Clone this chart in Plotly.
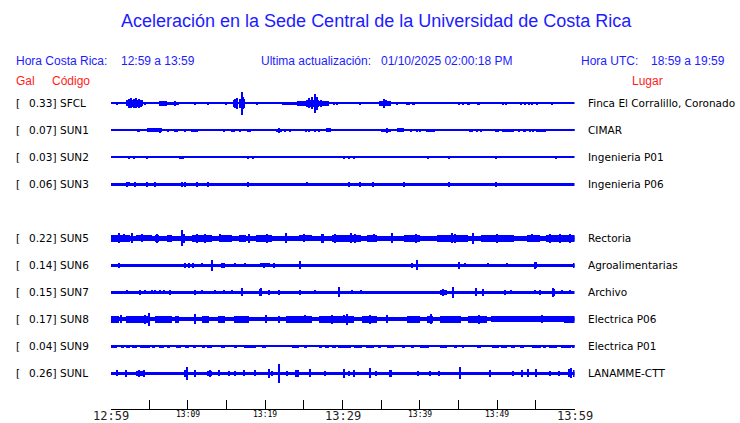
import plotly.graph_objects as go

W, H = 740, 423

# ---------------- data ----------------
STATIONS = ["SFCL", "SUN1", "SUN2", "SUN3", "SUN4", "SUN5", "SUN6", "SUN7", "SUN8", "SUN9", "SUNL"]
GAL = ["0.33", "0.07", "0.03", "0.06", None, "0.22", "0.14", "0.15", "0.17", "0.04", "0.26"]
LUGAR = ["Finca El Corralillo, Coronado", "CIMAR", "Ingenieria P01", "Ingenieria P06", None,
         "Rectoria", "Agroalimentarias", "Archivo", "Electrica P06", "Electrica P01", "LANAMME-CTT"]
# background noise half-amplitude of each trace (minutes 0..60 after 12:59)
BASE = [0.7, 0.7, 0.6, 1.6, None, 2.4, 1.5, 1.5, 2.1, 0.6, 1.6]

TICK_MIN = [0, 5, 10, 15, 20, 25, 30, 35, 40, 45, 50, 55, 60]
TICK_LABELS = ["12:59", "", "13:09", "", "13:19", "", "13:29", "", "13:39", "", "13:49", "", "13:59"]
TICK_MAJOR = [True, False, False, False, False, False, True, False, False, False, False, False, True]

# bursts: (start minute, end minute, half amplitude); spikes: (minute, half amplitude)
SFCL_BLOCKS = [(0.6, 0.95, 1.5), (2.0, 4.1, 3.0), (2.5, 3.9, 3.8), (6.2, 7.3, 2.7), (7.3, 8.8, 1.7),
               (15.8, 16.45, 3.5), (16.6, 17.3, 4.5), (22.1, 24.1, 1.8), (24.1, 25.2, 2.3),
               (25.2, 26.9, 3.5), (26.9, 28.2, 2.2), (32.05, 32.35, 1.3), (34.6, 36.2, 2.3),
               (36.8, 37.1, 1.5), (39.05, 39.3, 1.5), (46.05, 46.4, 1.5), (47.35, 47.7, 1.5),
               (50.5, 50.8, 1.5), (51.0, 51.25, 1.5), (52.85, 53.15, 1.5), (53.4, 53.7, 1.5)]
SFCL_SPIKES = [(2.3, 4.5), (2.6, 5.0), (2.95, 4.2), (3.25, 5.0), (3.6, 4.3), (3.9, 3.5), (4.46, 1.5),
               (8.3, 2.5), (10.93, 1.3), (11.66, 1.0), (12.56, 1.3), (13.77, 1.0), (14.89, 1.3),
               (16.0, 4.5), (16.3, 5.5), (16.92, 11.3), (17.1, 6.0), (17.9, 1.0), (18.9, 1.3), (19.1, 1.0),
               (21.27, 1.0), (25.6, 5.0), (26.0, 6.0), (26.44, 9.2), (26.7, 6.5), (27.2, 3.5),
               (28.81, 1.3), (29.24, 1.3), (30.15, 1.0), (30.54, 1.0), (33.77, 1.0), (35.28, 4.5),
               (35.6, 3.0), (38.3, 1.3), (38.5, 1.3), (40.97, 1.0), (43.04, 1.0), (44.2, 1.0),
               (44.98, 1.3), (45.5, 1.3), (48.64, 1.0), (54.1, 1.3), (54.5, 1.3), (55.1, 1.3), (57.1, 1.3)]

SUN1_BLOCKS = [(3.4, 3.8, 1.3), (4.7, 6.6, 2.0), (10.4, 11.2, 1.7), (17.6, 18.05, 1.3), (21.3, 22.1, 1.7),
               (27.85, 28.4, 2.0), (34.85, 36.15, 1.7), (37.0, 37.9, 2.0), (38.65, 38.95, 1.5),
               (40.7, 41.95, 1.7), (46.3, 46.85, 1.5), (47.15, 47.45, 1.5), (47.7, 48.0, 1.5),
               (49.6, 50.2, 1.5), (50.6, 52.1, 1.5), (52.6, 52.95, 1.5), (53.3, 53.7, 1.5), (55.0, 56.3, 1.5)]
SUN1_SPIKES = [(0.58, 1.0), (0.88, 1.0), (1.36, 1.0), (1.7, 1.0), (2.0, 1.0), (6.4, 2.5), (7.39, 1.3),
               (8.25, 1.3), (8.6, 1.3), (9.63, 1.3), (14.59, 1.5), (15.67, 1.3), (15.88, 1.3), (16.75, 1.3),
               (21.7, 2.3), (22.56, 1.3), (23.2, 1.3), (25.28, 1.3), (25.67, 1.3), (26.44, 1.3), (26.87, 1.3),
               (29.03, 1.0), (29.68, 1.0), (30.03, 1.0), (30.89, 1.0), (31.4, 1.0), (32.05, 1.0), (32.7, 1.0),
               (33.77, 1.0), (34.2, 1.0), (35.7, 2.3), (39.6, 1.3), (40.0, 1.3), (54.16, 1.3), (54.6, 1.3),
               (57.9, 1.0), (59.85, 1.0)]

SUN2_BLOCKS = [(8.77, 9.42, 1.5), (17.6, 17.8, 1.5), (30.0, 30.3, 1.5), (30.6, 30.9, 1.5),
               (43.7, 43.9, 1.5), (57.45, 57.7, 1.5)]
SUN2_SPIKES = [(2.3, 1.3), (2.95, 1.3), (4.68, 1.3), (4.9, 1.0), (5.54, 1.0), (6.19, 1.0), (18.34, 1.3),
               (25.06, 1.0), (31.4, 1.3), (32.35, 1.0), (40.97, 1.3), (44.34, 1.0), (49.85, 1.3), (50.58, 1.0)]

SUN3_BLOCKS = [(8.99, 9.3, 2.5), (12.43, 12.65, 2.3)]
SUN3_SPIKES = [(2.09, 2.3), (2.39, 2.0), (3.08, 2.3), (4.68, 2.3), (5.67, 2.3), (9.63, 2.3), (11.14, 2.3),
               (17.74, 2.5), (25.4, 2.0), (30.76, 2.3), (32.18, 2.5), (33.86, 2.3), (37.96, 2.3),
               (43.77, 2.5), (49.85, 2.3), (52.5, 1.8)]

SUN5_BLOCKS = [(0.0, 1.9, 3.5), (1.9, 2.5, 3.5), (3.2, 5.3, 3.0), (5.75, 6.2, 3.5), (7.26, 7.9, 3.5),
               (9.0, 9.63, 4.5), (10.5, 13.1, 3.3), (13.94, 15.7, 3.5), (16.5, 17.4, 3.5), (18.7, 20.8, 3.5),
               (24.3, 26.0, 3.0), (27.1, 27.5, 4.5), (28.6, 32.3, 3.5), (33.1, 34.4, 3.3), (37.9, 40.0, 3.3),
               (42.2, 46.1, 3.5), (47.8, 52.1, 3.3), (53.8, 55.5, 3.3), (56.2, 60.0, 3.5)]
SUN5_SPIKES = [(1.0, 5.0), (1.66, 4.0), (2.74, 5.0), (4.0, 4.0), (6.0, 4.5), (9.2, 8.0), (11.14, 4.5),
               (12.2, 4.5), (14.16, 4.0), (17.8, 4.5), (20.2, 4.5), (22.6, 5.0), (25.0, 4.0), (29.0, 4.5),
               (31.0, 5.0), (31.6, 4.5), (34.0, 4.0), (36.4, 5.0), (39.5, 4.5), (44.1, 5.0), (44.55, 4.5),
               (46.8, 5.5), (49.9, 4.5), (54.5, 4.0), (56.8, 4.5), (58.1, 4.5), (59.4, 4.5)]

SUN6_BLOCKS = [(14.2, 14.7, 2.5), (19.3, 20.6, 2.0), (54.8, 55.1, 3.0)]
SUN6_SPIKES = [(1.01, 2.3), (3.17, 1.8), (5.97, 1.8), (7.26, 1.8), (9.63, 2.5), (10.07, 2.3), (10.6, 2.3),
               (11.8, 2.0), (13.08, 5.3), (16.1, 2.0), (17.39, 2.0), (19.8, 2.3), (21.05, 2.5), (24.42, 4.0),
               (38.95, 2.5), (39.6, 5.0), (44.98, 3.5), (45.84, 2.0), (48.8, 2.0), (51.23, 2.0),
               (54.9, 3.5), (59.85, 2.5)]

SUN7_BLOCKS = [(19.1, 19.5, 3.3), (42.6, 43.5, 2.5), (57.05, 57.4, 3.5)]
SUN7_SPIKES = [(2.09, 2.0), (3.81, 2.3), (4.46, 2.0), (5.32, 2.0), (5.75, 2.0), (6.4, 2.0), (6.83, 2.0),
               (7.69, 2.3), (10.84, 2.3), (11.8, 2.0), (13.51, 2.0), (14.59, 2.0), (15.67, 2.0), (16.96, 4.0),
               (19.4, 4.0), (20.4, 2.3), (21.7, 2.3), (24.42, 2.3), (26.44, 2.0), (29.46, 5.0), (31.2, 2.0),
               (32.3, 2.0), (43.0, 3.3), (44.2, 5.5), (47.2, 4.0), (48.1, 3.3), (50.9, 2.3), (51.7, 2.0),
               (54.9, 2.0), (55.5, 2.3), (57.2, 4.5), (58.3, 2.0), (59.4, 2.0)]

SUN8_BLOCKS = [(0.0, 1.0, 3.3), (1.9, 4.9, 3.3), (5.75, 7.9, 3.5), (8.3, 8.8, 3.5), (11.8, 12.65, 3.3),
               (13.9, 14.8, 3.5), (15.9, 17.8, 3.3), (22.6, 26.0, 3.5), (26.9, 31.4, 3.4), (32.5, 34.4, 3.5),
               (38.3, 40.0, 3.3), (40.9, 41.7, 3.5), (42.6, 45.2, 3.5), (46.2, 48.6, 3.3), (49.1, 58.6, 3.0),
               (58.6, 60.0, 3.8)]
SUN8_SPIKES = [(1.36, 4.0), (4.46, 4.5), (4.89, 6.2), (10.93, 5.0), (20.0, 4.0), (21.7, 3.5), (25.15, 4.0),
               (28.6, 4.5), (30.1, 4.0), (30.5, 5.3), (33.56, 4.5), (35.7, 4.0), (41.4, 5.0), (47.6, 4.5),
               (55.8, 4.0)]

SUN9_BLOCKS = [(0.0, 0.8, 1.5), (1.23, 1.66, 1.5), (1.9, 2.52, 1.5), (2.74, 3.38, 1.5), (3.8, 5.1, 1.5),
               (5.32, 5.75, 1.5), (6.19, 6.83, 1.5), (7.26, 7.69, 1.5), (8.34, 8.99, 1.5), (9.63, 10.07, 1.5),
               (10.58, 10.93, 1.5), (11.79, 12.13, 1.5), (12.43, 13.08, 1.5), (14.16, 14.8, 1.5),
               (15.88, 16.31, 1.5), (17.18, 18.7, 1.5), (19.55, 19.98, 1.5), (23.4, 24.3, 1.5),
               (24.93, 25.37, 1.5), (26.87, 27.3, 1.5), (27.73, 28.17, 1.5), (28.6, 29.03, 1.5),
               (29.37, 30.97, 1.5), (31.4, 32.48, 1.5), (32.91, 33.99, 1.5), (34.64, 34.85, 1.5),
               (35.71, 36.58, 1.5), (37.65, 37.96, 1.5), (38.73, 39.16, 1.5), (40.0, 41.1, 1.5),
               (42.6, 43.5, 1.5), (44.3, 44.77, 1.5), (45.4, 45.6, 1.5), (47.35, 47.78, 1.5),
               (49.3, 50.15, 1.5), (50.37, 51.23, 1.5), (51.66, 52.3, 1.5), (52.95, 53.4, 1.5),
               (54.46, 55.54, 1.5), (55.97, 56.2, 1.5), (56.62, 57.7, 1.5), (58.13, 59.42, 1.5), (59.6, 60.0, 1.5)]
SUN9_SPIKES = []

SUNL_BLOCKS = [(1.9, 2.1, 3.3), (3.17, 4.46, 2.7), (12.4, 13.1, 2.7), (18.5, 18.7, 3.0), (23.85, 24.3, 3.3),
               (35.9, 36.4, 3.3), (54.9, 55.1, 4.0)]
SUNL_SPIKES = [(0.8, 3.0), (3.6, 3.5), (4.3, 3.5), (9.63, 3.5), (9.85, 6.7), (10.93, 3.5), (12.8, 3.3),
               (13.94, 3.0), (15.24, 2.3), (16.1, 2.7), (17.2, 3.0), (20.4, 4.5), (20.84, 2.5), (21.7, 9.5),
               (22.8, 2.5), (24.1, 3.5), (25.8, 4.0), (27.7, 2.3), (30.1, 4.5), (30.76, 2.5), (31.4, 3.5),
               (33.56, 5.0), (34.33, 2.5), (36.1, 3.5), (39.7, 2.5), (41.3, 2.5), (42.4, 2.5), (45.1, 6.0),
               (49.0, 3.5), (52.0, 2.5), (53.2, 3.3), (53.9, 4.0), (56.8, 2.5), (58.0, 2.5), (59.2, 4.0),
               (59.5, 5.0), (59.85, 3.5)]

BLOCKS = {"SFCL": SFCL_BLOCKS, "SUN1": SUN1_BLOCKS, "SUN2": SUN2_BLOCKS, "SUN3": SUN3_BLOCKS,
          "SUN5": SUN5_BLOCKS, "SUN6": SUN6_BLOCKS, "SUN7": SUN7_BLOCKS, "SUN8": SUN8_BLOCKS,
          "SUN9": SUN9_BLOCKS, "SUNL": SUNL_BLOCKS}
SPIKES = {"SFCL": SFCL_SPIKES, "SUN1": SUN1_SPIKES, "SUN2": SUN2_SPIKES, "SUN3": SUN3_SPIKES,
          "SUN5": SUN5_SPIKES, "SUN6": SUN6_SPIKES, "SUN7": SUN7_SPIKES, "SUN8": SUN8_SPIKES,
          "SUN9": SUN9_SPIKES, "SUNL": SUNL_SPIKES}

# ---------------- layout constants ----------------
X0_PX, X1_PX = 110.5, 574.5
AXIS_PX = 409
ROW0_PX, ROW_STEP = 103.3, 27
SPIKE_W = 0.16
BLUE = "#0000ff"
TXT_BLUE = "#1c1cff"
RED = "#ff1c1c"
SANS = "Liberation Sans, Arial, sans-serif"
DV = "DejaVu Sans, sans-serif"
MONO = "DejaVu Sans Mono, monospace"

fig = go.Figure()

for i, st in enumerate(STATIONS):
    if BASE[i] is None:
        continue
    yc = ROW0_PX + ROW_STEP * i
    xs, ws, bs, hs = [], [], [], []
    # background band over the full hour
    xs.append(30); ws.append(60); bs.append(yc - BASE[i]); hs.append(2 * BASE[i])
    for t0, t1, a in BLOCKS[st]:
        xs.append((t0 + t1) / 2); ws.append(t1 - t0); bs.append(yc - a); hs.append(2 * a)
    for t, a in SPIKES[st]:
        xs.append(t); ws.append(SPIKE_W); bs.append(yc - a); hs.append(2 * a)
    fig.add_trace(go.Bar(x=xs, y=hs, base=bs, width=ws, marker=dict(color=BLUE, line=dict(width=0)),
                         showlegend=False, hoverinfo="skip"))


def px_x(px):
    return px / W


def px_y(py):
    return (AXIS_PX - py) / AXIS_PX


ann = []


def text(px, py, s, size, color, family, xanchor="left"):
    ann.append(dict(x=px_x(px), y=px_y(py), xref="paper", yref="paper", text=s, showarrow=False,
                    xanchor=xanchor, yanchor="middle", font=dict(size=size, color=color, family=family),
                    borderpad=0))


# title and headers
text(376, 21.5, "Aceleración en la Sede Central de la Universidad de Costa Rica", 18, TXT_BLUE, SANS, "center")
text(15, 61, "Hora Costa Rica:", 12, TXT_BLUE, SANS)
text(120, 61, "12:59 a 13:59", 12, TXT_BLUE, SANS)
text(260, 61, "Ultima actualización:", 12, TXT_BLUE, SANS)
text(380, 61, "01/10/2025 02:00:18 PM", 12, TXT_BLUE, SANS)
text(580, 61, "Hora UTC:", 12, TXT_BLUE, SANS)
text(650, 61, "18:59 a 19:59", 12, TXT_BLUE, SANS)
text(15, 80.5, "Gal", 12, RED, SANS)
text(50.5, 80.5, "Código", 12, RED, SANS)
text(630.5, 80.5, "Lugar", 12, RED, SANS)

for i, st in enumerate(STATIONS):
    if GAL[i] is None:
        continue
    yc = ROW0_PX + ROW_STEP * i
    text(14.5, yc, "[", 10.5, "black", DV)
    text(27.5, yc, GAL[i] + "]", 10.5, "black", DV)
    text(58.5, yc, st, 10.5, "black", DV)
    text(587, yc, LUGAR[i], 10.5, "black", DV)

for t, lab, major in zip(TICK_MIN, TICK_LABELS, TICK_MAJOR):
    if not lab:
        continue
    px = X0_PX + (X1_PX - X0_PX) * t / 60
    if major:
        text(px, 415.5, lab, 12, "#222222", MONO, "center")
    else:
        text(px, 414.5, lab, 8, "black", MONO, "center")

fig.update_layout(
    width=W, height=H,
    margin=dict(l=0, r=0, t=0, b=H - AXIS_PX, pad=0),
    paper_bgcolor="white", plot_bgcolor="white",
    barmode="overlay", bargap=0,
    showlegend=False,
    annotations=ann,
    xaxis=dict(domain=[X0_PX / W, X1_PX / W], range=[0, 60], showgrid=False, zeroline=False,
               showline=True, linecolor="black", linewidth=1, ticks="inside", ticklen=9, tickwidth=1,
               tickcolor="black", tickvals=TICK_MIN, showticklabels=False, fixedrange=True),
    yaxis=dict(range=[AXIS_PX, 0], visible=False, fixedrange=True),
)

fig.write_html("out.html", config={"displayModeBar": False},
               post_script="document.body.style.margin='0';document.body.style.overflow='hidden';")
